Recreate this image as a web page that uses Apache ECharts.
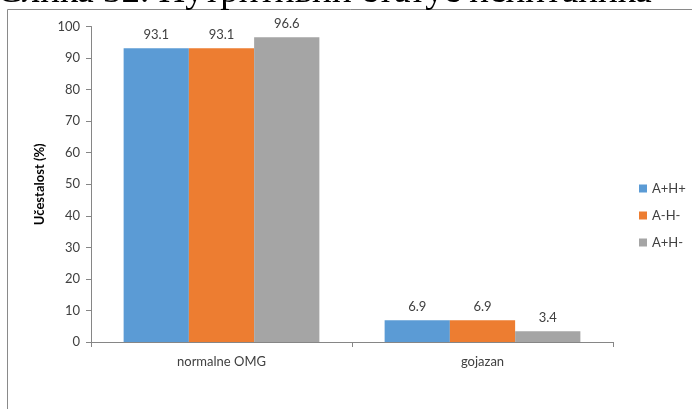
<!DOCTYPE html>
<html>
<head>
<meta charset="utf-8">
<script src="https://cdn.jsdelivr.net/npm/echarts@6/dist/echarts.min.js"></script>
<style>
  html, body { margin: 0; padding: 0; background: #ffffff; }
  #chart { width: 692px; height: 409px; }
</style>
</head>
<body>
<div id="chart"></div>
<script>
// Nutritional status of respondents, share (%) by group
const categories = ['normalne OMG', 'gojazan'];
const seriesNames = ['A+H+', 'A-H-', 'A+H-'];
const valuesAHpp = [93.1, 6.9];
const valuesAHmm = [93.1, 6.9];
const valuesAHpm = [96.6, 3.4];
const yTicks = [0, 10, 20, 30, 40, 50, 60, 70, 80, 90, 100];
const figureCaption = 'Слика 32. Нутритивни статус испитаника';

const colors = ['#5B9BD5', '#ED7D31', '#A5A5A5'];
const font = 'Lato, "Open Sans", sans-serif';

const chart = echarts.init(document.getElementById('chart'), null, { renderer: 'canvas' });

const seriesData = [valuesAHpp, valuesAHmm, valuesAHpm];

chart.setOption({
  animation: false,
  backgroundColor: '#ffffff',
  color: colors,
  graphic: [
    {
      type: 'rect',
      shape: { x: 7.5, y: 9.5, width: 720, height: 440 },
      style: { fill: 'none', stroke: '#8a8a8a', lineWidth: 1 },
      z: 0
    },
    {
      type: 'text',
      left: -3,
      top: -26,
      style: {
        text: figureCaption,
        font: '37px "Liberation Serif", "Times New Roman", serif',
        fill: '#000000'
      },
      z: 10
    }
  ],
  grid: { left: 91, right: 79, top: 26.5, bottom: 67, containLabel: false },
  legend: {
    orient: 'vertical',
    left: 634,
    top: 177,
    itemWidth: 8,
    itemHeight: 8,
    itemGap: 14,
    icon: 'rect',
    textStyle: { fontFamily: font, fontSize: 13, color: '#404040' },
    data: seriesNames
  },
  xAxis: {
    type: 'category',
    data: categories,
    axisLine: { show: true, lineStyle: { color: '#868686', width: 1 } },
    axisTick: { show: true, length: 5, alignWithLabel: false, lineStyle: { color: '#868686' } },
    axisLabel: { fontFamily: font, fontSize: 13, color: '#404040', margin: 13 },
    splitLine: { show: false }
  },
  yAxis: {
    type: 'value',
    min: yTicks[0],
    max: yTicks[yTicks.length - 1],
    interval: yTicks[1] - yTicks[0],
    name: 'Učestalost (%)',
    nameLocation: 'middle',
    nameRotate: 90,
    nameGap: 40,
    nameTextStyle: { fontFamily: font, fontSize: 13, fontWeight: 'bold', color: '#000000' },
    axisLine: { show: true, lineStyle: { color: '#868686', width: 1 } },
    axisTick: { show: true, length: 5, lineStyle: { color: '#868686' } },
    axisLabel: { fontFamily: font, fontSize: 13, color: '#404040', margin: 11 },
    splitLine: { show: false }
  },
  series: seriesNames.map((name, i) => ({
    name: name,
    type: 'bar',
    data: seriesData[i],
    barGap: '0%',
    barCategoryGap: '25%',
    label: {
      show: true,
      position: 'top',
      distance: 7,
      fontFamily: font,
      fontSize: 13,
      color: '#404040',
      formatter: p => p.value.toFixed(1)
    }
  }))
});
</script>
</body>
</html>
